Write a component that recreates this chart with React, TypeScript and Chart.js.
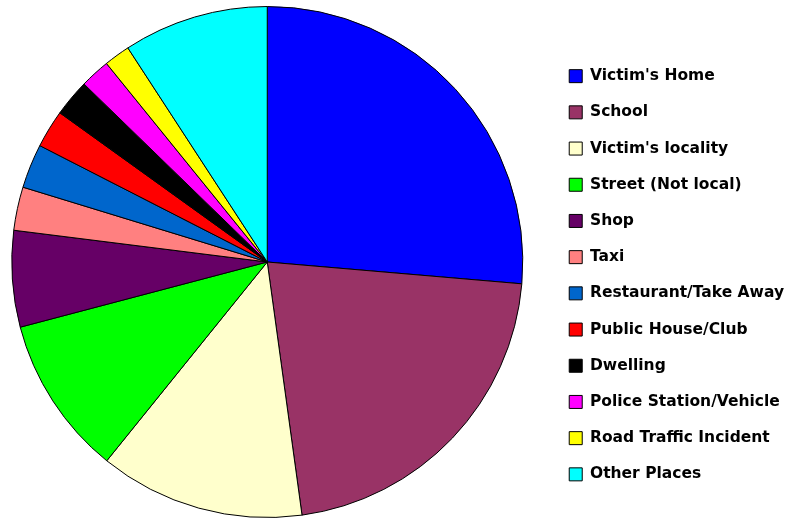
import React, { useEffect, useRef } from "react";
import { Chart, registerables } from "chart.js";

Chart.register(...registerables);

const categories = [
  "Victim's Home",
  "School",
  "Victim's locality",
  "Street (Not local)",
  "Shop",
  "Taxi",
  "Restaurant/Take Away",
  "Public House/Club",
  "Dwelling",
  "Police Station/Vehicle",
  "Road Traffic Incident",
  "Other Places",
];

const values = [26.4, 21.5, 13.0, 10.1, 6.1, 2.75, 2.8, 2.4, 2.35, 1.9, 1.65, 9.2];

const colors = [
  "#0000FF",
  "#993366",
  "#FFFFCC",
  "#00FF00",
  "#660066",
  "#FF8080",
  "#0066CC",
  "#FF0000",
  "#000000",
  "#FF00FF",
  "#FFFF00",
  "#00FFFF",
];

export default function App() {
  const ref = useRef<HTMLCanvasElement | null>(null);

  useEffect(() => {
    if (!ref.current) return;
    const chart = new Chart(ref.current, {
      type: "pie",
      data: {
        labels: categories,
        datasets: [
          {
            data: values,
            backgroundColor: colors,
            borderColor: "#000000",
            borderWidth: 1,
          },
        ],
      },
      options: {
        responsive: false,
        animation: false,
        layout: { padding: { left: 0, right: 0, top: 6, bottom: 0 } },
        plugins: {
          tooltip: { enabled: false },
          legend: {
            position: "right",
            align: "center",
            title: {
              display: true,
              text: " ",
              font: { size: 10 },
              padding: { top: 14.5, bottom: 0 },
            },
            labels: {
              boxWidth: 13,
              boxHeight: 13,
              padding: 20.7,
              color: "#000000",
              font: { family: "'DejaVu Sans', sans-serif", size: 15.5, weight: "bold" },
            },
          },
        },
      },
    });
    return () => chart.destroy();
  }, []);

  return (
    <div style={{ position: "fixed", left: -14, top: 0, width: 808, height: 518, background: "#fff" }}>
      <canvas ref={ref} width={808} height={518} />
    </div>
  );
}
